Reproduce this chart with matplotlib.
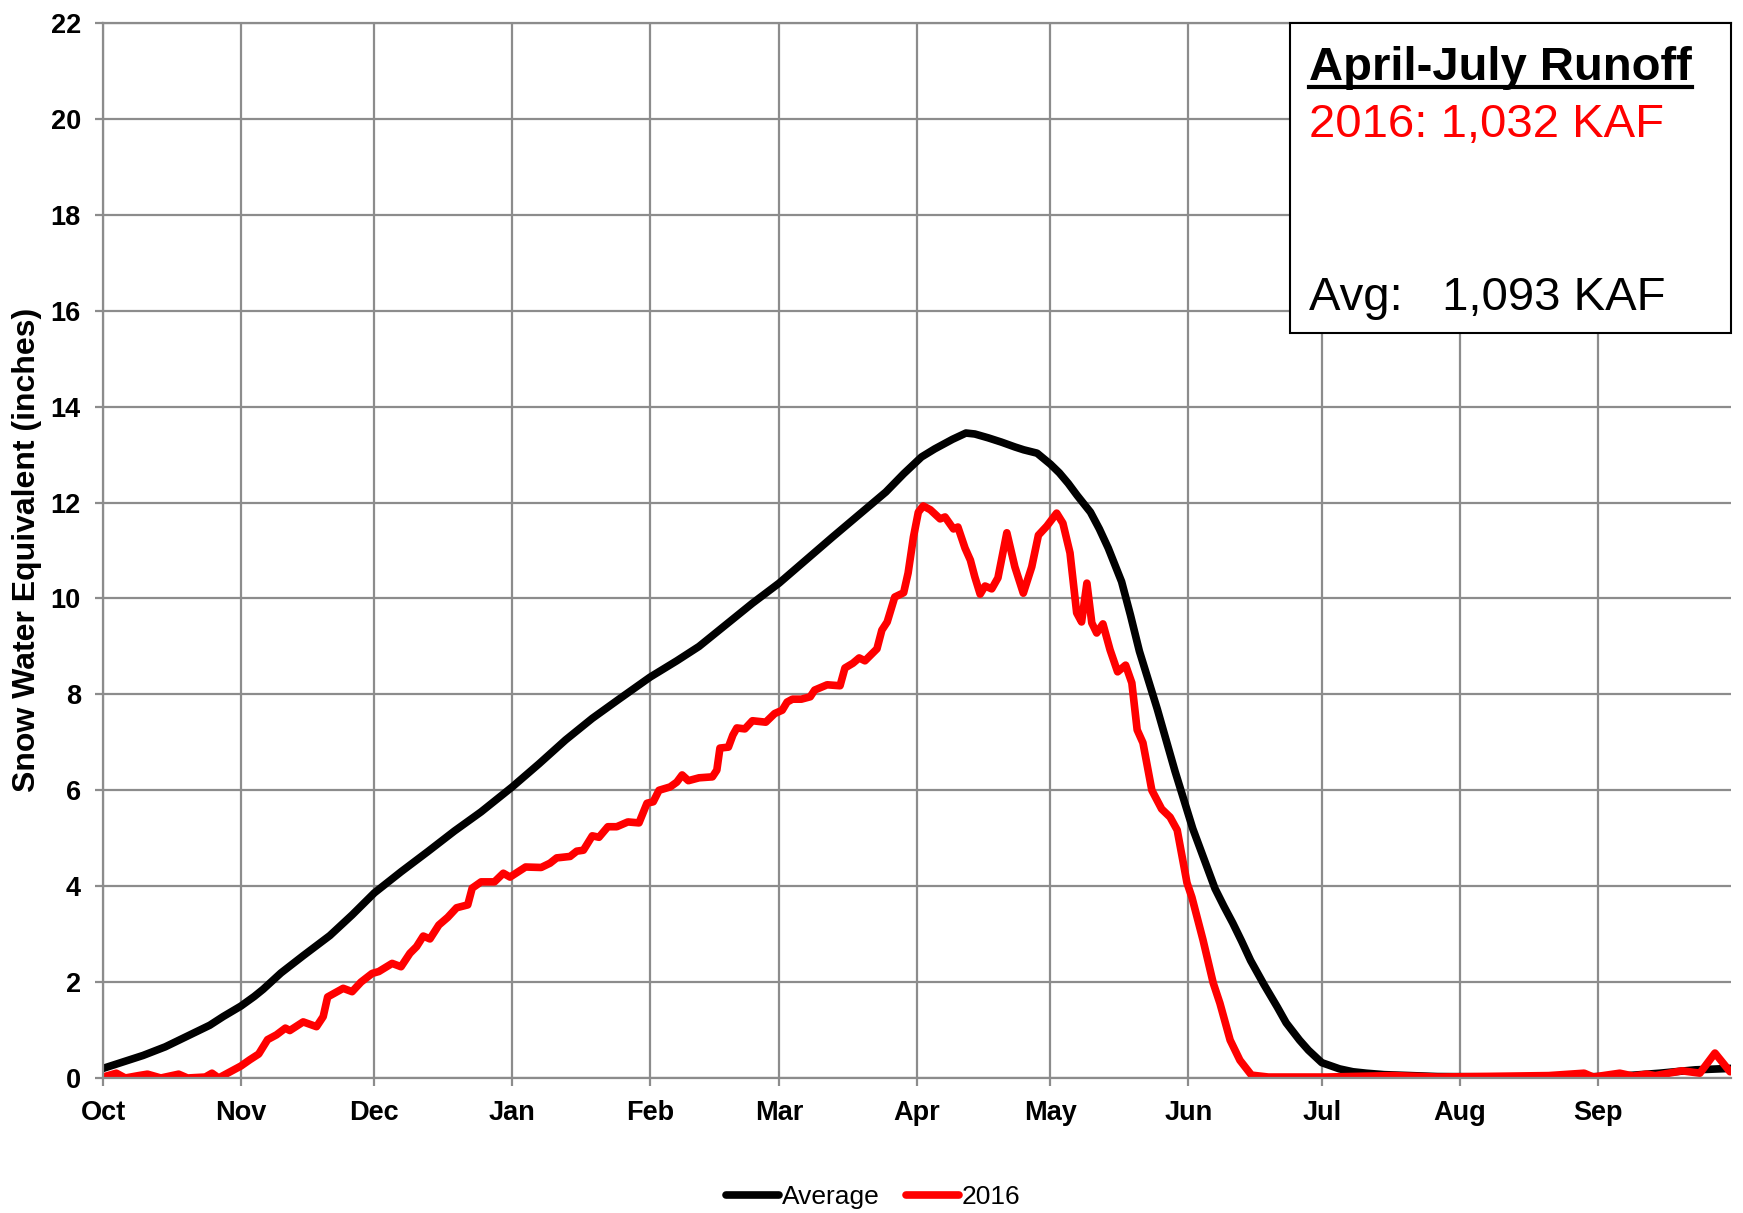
import numpy as np
import matplotlib
matplotlib.use('Agg')
import matplotlib.pyplot as plt
from matplotlib.lines import Line2D
from matplotlib.patches import Rectangle

plt.rcParams['font.family'] = ['Liberation Sans', 'DejaVu Sans']

# water year Oct 2015 - Sep 2016, x is days since Oct 1
month_labels = ['Oct', 'Nov', 'Dec', 'Jan', 'Feb', 'Mar', 'Apr', 'May', 'Jun', 'Jul', 'Aug', 'Sep']
month_lengths = [31, 30, 31, 31, 29, 31, 30, 31, 30, 31, 31, 30]

# Average SWE (inches)
avg_day = [0, 2, 4, 9, 14, 18, 24, 27, 31, 34, 36, 40, 45, 51, 56, 61, 64, 67, 73,
           79, 85, 92, 98, 104, 110, 116, 123, 129, 134, 140, 146, 152, 158, 164,
           170, 176, 180, 184, 187, 189, 191, 194, 196, 199, 202, 205, 207, 210,
           213, 215, 217, 219, 222, 224, 226, 229, 231, 233, 235, 237, 239, 241,
           243, 245, 247, 250, 252, 254, 256, 258, 261, 264, 266, 269, 271, 274,
           278, 281, 284, 288, 300, 320, 340, 350, 358, 366]
avg_swe = [0.20, 0.26, 0.32, 0.47, 0.65, 0.83, 1.10, 1.28, 1.50, 1.70, 1.85, 2.19,
           2.55, 2.97, 3.40, 3.86, 4.08, 4.30, 4.72, 5.15, 5.55, 6.07, 6.55, 7.05,
           7.50, 7.90, 8.36, 8.70, 9.00, 9.45, 9.90, 10.32, 10.80, 11.28, 11.75,
           12.22, 12.60, 12.95, 13.12, 13.22, 13.32, 13.45, 13.43, 13.35, 13.26,
           13.16, 13.10, 13.03, 12.80, 12.62, 12.40, 12.15, 11.80, 11.45, 11.05,
           10.35, 9.65, 8.90, 8.30, 7.70, 7.05, 6.40, 5.80, 5.20, 4.70, 3.95, 3.58,
           3.23, 2.85, 2.45, 1.95, 1.48, 1.15, 0.79, 0.58, 0.32, 0.19, 0.13, 0.10,
           0.07, 0.03, 0.02, 0.03, 0.10, 0.17, 0.20]

# WY2016 SWE (inches)
wy2016_day = [0, 3, 5, 8, 10, 13, 17, 19, 23, 24.5, 26, 28, 31, 33, 35, 36, 37, 39,
              41, 42, 45, 48, 49.5, 50.5, 54, 56, 58, 60.5, 62, 65, 67, 69, 70.5, 72,
              73.5, 75.5, 77.5, 79.5, 82, 83, 85, 88, 90, 91.5, 95, 98.5, 100.5, 102,
              105, 106.5, 108, 110, 111.5, 113.5, 115.5, 118, 120.5, 122.3, 123.7, 125,
              127.5, 129, 130.2, 131.6, 134, 137, 138, 138.7, 140.6, 141.6, 142.5,
              144.3, 146, 149, 151, 152.7, 153.8, 155, 157, 159, 160, 162.8, 165.7,
              166.8, 168.6, 170, 171.3, 174, 175.1, 176.3, 178, 180, 181, 182.2,
              183.3, 184.4, 186, 188.2, 189.3, 191.2, 192.2, 193.8, 195, 196, 197.2,
              198.3, 199.8, 201.2, 203.2, 205, 206.9, 208.8, 210.3, 212.2, 214.4,
              215.8, 217.4, 218.9, 220, 221.2, 222.3, 223.4, 224.8, 226.4, 228.1,
              229.9, 231.3, 232.5, 233.8, 235.8, 238, 239.9, 241.5, 243.7, 244.8,
              247.3, 249.6, 251.1, 253.4, 255.6, 258.2, 262, 275, 290, 300, 325, 333,
              335, 341, 344, 347, 349, 355, 359, 362.4, 365.8]
wy2016_swe = [0.02, 0.10, 0.0, 0.05, 0.08, 0.0, 0.08, 0.0, 0.02, 0.10, 0.0, 0.10,
              0.25, 0.38, 0.50, 0.65, 0.80, 0.90, 1.04, 0.99, 1.17, 1.07, 1.28, 1.69,
              1.87, 1.80, 2.00, 2.18, 2.22, 2.39, 2.32, 2.60, 2.74, 2.96, 2.90, 3.19,
              3.35, 3.55, 3.61, 3.96, 4.09, 4.09, 4.27, 4.19, 4.40, 4.39, 4.48, 4.59,
              4.62, 4.73, 4.75, 5.05, 5.02, 5.24, 5.24, 5.34, 5.32, 5.73, 5.76, 6.00,
              6.07, 6.17, 6.32, 6.20, 6.26, 6.28, 6.42, 6.88, 6.90, 7.15, 7.30, 7.28,
              7.45, 7.42, 7.60, 7.67, 7.84, 7.90, 7.90, 7.95, 8.09, 8.20, 8.18, 8.55,
              8.65, 8.76, 8.70, 8.95, 9.34, 9.51, 10.03, 10.12, 10.53, 11.28, 11.80,
              11.93, 11.85, 11.66, 11.70, 11.45, 11.49, 11.05, 10.80, 10.45, 10.09,
              10.26, 10.20, 10.43, 11.37, 10.66, 10.11, 10.66, 11.32, 11.51, 11.78,
              11.57, 10.95, 9.70, 9.51, 10.32, 9.49, 9.28, 9.47, 8.93, 8.47, 8.61,
              8.24, 7.26, 6.99, 6.00, 5.61, 5.44, 5.17, 4.07, 3.77, 2.88, 1.98, 1.56,
              0.79, 0.37, 0.06, 0.02, 0.02, 0.05, 0.02, 0.05, 0.10, 0.02, 0.10, 0.04,
              0.08, 0.05, 0.15, 0.10, 0.52, 0.13]

runoff_title = 'April-July Runoff'
runoff_2016 = '2016: 1,032 KAF'
runoff_avg = 'Avg:   1,093 KAF'

GRID = '#8c8c8c'


def main():
    fig = plt.figure(figsize=(17.43, 12.13), dpi=100)
    ax = fig.add_axes([0.0591, 0.1113, 0.9340, 0.8697])

    month_starts = np.concatenate([[0], np.cumsum(month_lengths)[:-1]])
    ax.set_xticks(month_starts, month_labels)
    ax.set_yticks(np.arange(0, 23, 2))
    ax.set_xlim(0, 366)
    ax.set_ylim(0, 22)

    ax.grid(True, color=GRID, lw=1.6)
    ax.set_axisbelow(True)
    for side in ['left', 'bottom', 'top']:
        ax.spines[side].set_color(GRID)
        ax.spines[side].set_linewidth(1.6)
    ax.spines['right'].set_visible(False)
    ax.tick_params(length=6, width=1.6, color=GRID, labelsize=19.5, pad=10)
    for lbl in ax.get_xticklabels() + ax.get_yticklabels():
        lbl.set_fontweight('bold')

    ax.plot(avg_day, avg_swe, color='black', lw=5.5, label='Average',
            solid_joinstyle='round', solid_capstyle='round')
    ax.plot(wy2016_day, wy2016_swe, color='#ff0000', lw=5.5, label='2016',
            solid_joinstyle='round', solid_capstyle='round')

    fig.text(0.0155, 0.547, 'Snow Water Equivalent (inches)', rotation=90,
             ha='center', va='center', fontsize=23, fontweight='bold')

    # runoff box
    ax.add_patch(Rectangle((0.729, 0.706), 0.271, 0.294, transform=ax.transAxes,
                           facecolor='white', edgecolor='black', lw=1.5,
                           zorder=5, clip_on=False))
    t = ax.text(0.741, 0.946, runoff_title, transform=ax.transAxes, fontsize=34,
                fontweight='bold', va='baseline', zorder=6)
    ax.text(0.741, 0.892, runoff_2016, transform=ax.transAxes, fontsize=34,
            color='#ff0000', va='baseline', zorder=6)
    ax.text(0.741, 0.728, runoff_avg, transform=ax.transAxes, fontsize=34,
            va='baseline', zorder=6)

    # underline the title
    fig.canvas.draw()
    bb = t.get_window_extent()
    inv = ax.transAxes.inverted()
    x0 = inv.transform((bb.x0, bb.y0))[0]
    x1 = inv.transform((bb.x1, bb.y0))[0]
    ax.add_line(Line2D([x0, x1], [0.939, 0.939], transform=ax.transAxes,
                       color='black', lw=3, zorder=6, clip_on=False))

    fig.legend(loc='center', bbox_to_anchor=(0.501, 0.013), ncol=2, frameon=False,
               fontsize=19, handlelength=2.0, handletextpad=0.1, columnspacing=1.0)

    fig.savefig('out.png', dpi=100)


if __name__ == '__main__':
    main()
